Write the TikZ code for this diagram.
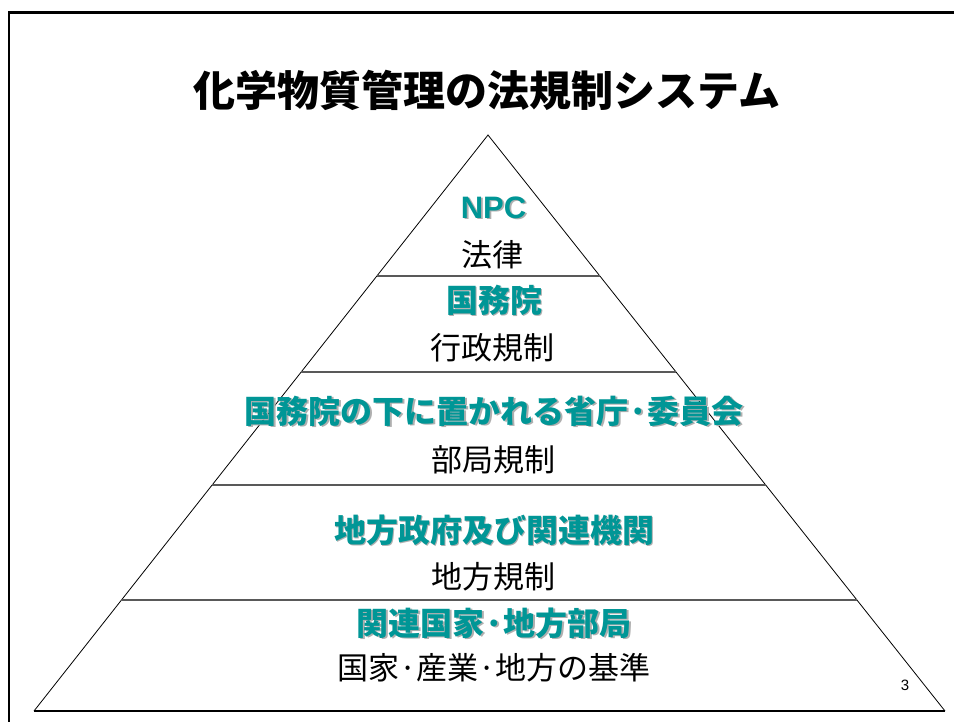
\documentclass[tikz,border=0pt]{standalone}
\usepackage{fontspec}
\setmainfont{Liberation Sans}
\newfontfamily\jp{Noto Sans CJK JP}
\usetikzlibrary{calc}
\definecolor{teal1}{RGB}{0,150,150}
\definecolor{shad}{RGB}{175,175,175}
\tikzset{
  side/.style={draw=black, line width=0.8pt},
  sep/.style={draw=black!65, line width=1.3pt},
  head/.style={font=\jp\bfseries\fontsize{32}{34}\selectfont, text=teal1, inner sep=0pt},
  headsh/.style={font=\jp\bfseries\fontsize{32}{34}\selectfont, text=shad, inner sep=0pt},
  body/.style={font=\jp\fontsize{31}{33}\selectfont, text=black, inner sep=0pt},
}
\newcommand{\tealtext}[3]{%
  \node[headsh] (#1s) at ($(#2)+(1.8,1.8)$) {#3};
  \node[head] (#1) at (#2) {#3};}
\begin{document}
\begin{tikzpicture}[x=1pt,y=-1pt]
\useasboundingbox (0,0) rectangle (954,722);
\fill[white] (0,0) rectangle (954,722);
% frame
\coordinate (fl) at (9,722);
\coordinate (fc) at (9,12.5);
\coordinate (fr) at (954,12.5);
\draw[line width=2.2pt] (fl) -- (fc) -- (fr);
% title
\node[font=\jp\bfseries\fontsize{42}{44}\selectfont, inner sep=0pt] (title) at (487,90) {化学物質管理の法規制システム};
% pyramid
\coordinate (A) at (488,135);
\coordinate (L) at (34,711);
\coordinate (R) at (945,711);
\draw[side] (L) -- (A) -- (R);
\draw[draw=black, line width=1.3pt] (L) -- (R);
\foreach \t/\n in {0.2448/a,0.4115/b,0.6076/c,0.8073/d}{
  \coordinate (l\n) at ($(A)!\t!(L)$);
  \coordinate (r\n) at ($(A)!\t!(R)$);
  \draw[sep] (l\n) -- (r\n);
}
% texts
\node[headsh, font=\bfseries\fontsize{31}{33}\selectfont] (npcs) at (495.3,209.3) {NPC};
\node[head, font=\bfseries\fontsize{31}{33}\selectfont] (npc) at (493.5,207.5) {NPC};
\node[body] (t1) at (492,255) {法律};
\tealtext{h2}{494,300}{国務院}
\node[body] (t2) at (492,348) {行政規制};
\tealtext{h3}{494,411}{国務院の下に置かれる省庁·委員会}
\node[body] (t3) at (493,460) {部局規制};
\tealtext{h4}{494,530}{地方政府及び関連機関}
\node[body] (t4) at (493,577) {地方規制};
\tealtext{h5}{494,623}{関連国家·地方部局}
\node[body] (t5) at (494,668) {国家·産業·地方の基準};
\node[font=\fontsize{15}{17}\selectfont, inner sep=0pt] (pg) at (905,685) {3};
\end{tikzpicture}
\end{document}
